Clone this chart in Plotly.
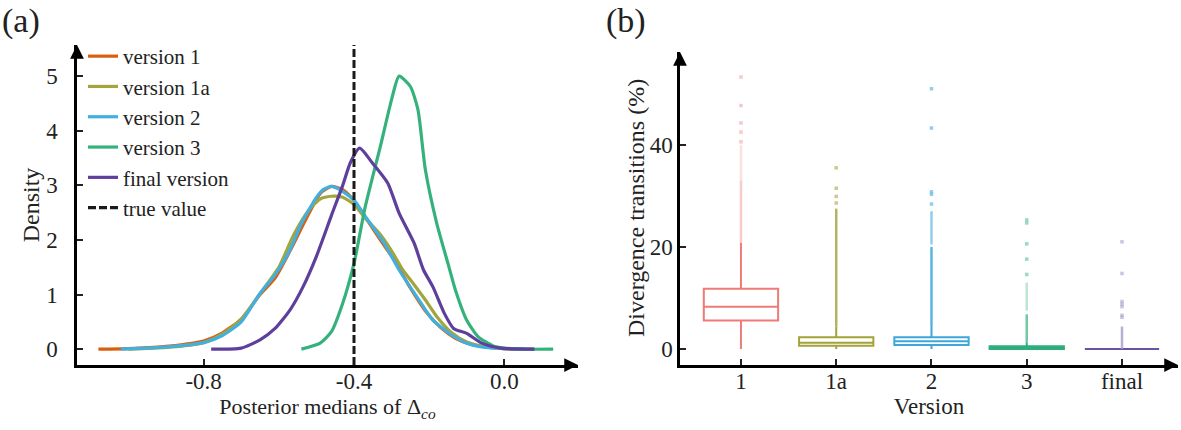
import plotly.graph_objects as go

# ---------------- Panel (a): density of posterior medians ----------------
v1_x = [-1.08, -1.0, -0.9, -0.85, -0.8, -0.75, -0.7, -0.65, -0.61, -0.57, -0.53, -0.49, -0.46,
        -0.43, -0.40, -0.37, -0.33, -0.29, -0.25, -0.21, -0.17, -0.13, -0.09, -0.05, 0.0, 0.05]
v1_y = [0.0, 0.01, 0.05, 0.09, 0.15, 0.3, 0.55, 1.0, 1.3, 1.8, 2.35, 2.85, 2.98,
        2.92, 2.72, 2.42, 2.0, 1.6, 1.12, 0.7, 0.4, 0.2, 0.09, 0.04, 0.01, 0.0]

v1a_x = [-1.0, -0.9, -0.8, -0.75, -0.7, -0.65, -0.6, -0.56, -0.52, -0.49, -0.46, -0.43, -0.40,
         -0.37, -0.33, -0.3, -0.27, -0.24, -0.21, -0.18, -0.14, -0.1, -0.05, 0.0, 0.05]
v1a_y = [0.0, 0.03, 0.12, 0.28, 0.55, 1.02, 1.5, 2.1, 2.55, 2.75, 2.8, 2.78, 2.65,
         2.4, 2.1, 1.8, 1.45, 1.18, 0.9, 0.6, 0.3, 0.13, 0.04, 0.01, 0.0]

v2_x = [-1.02, -0.95, -0.88, -0.8, -0.75, -0.7, -0.65, -0.61, -0.57, -0.54, -0.5, -0.48, -0.46,
        -0.44, -0.4, -0.37, -0.32, -0.28, -0.23, -0.19, -0.14, -0.1, -0.05, 0.0, 0.08]
v2_y = [0.0, 0.02, 0.05, 0.12, 0.25, 0.5, 1.02, 1.36, 1.82, 2.3, 2.78, 2.93, 2.98,
        2.93, 2.73, 2.43, 1.94, 1.45, 0.93, 0.53, 0.26, 0.11, 0.03, 0.01, 0.0]

v3_x = [-0.54, -0.49, -0.46, -0.43, -0.40, -0.37, -0.33, -0.30, -0.28, -0.25, -0.23, -0.21,
        -0.18, -0.15, -0.13, -0.10, -0.07, -0.03, 0.0, 0.05, 0.13]
v3_y = [0.0, 0.11, 0.32, 0.84, 1.57, 2.61, 3.71, 4.57, 5.0, 4.81, 4.39, 3.28,
        2.31, 1.57, 1.08, 0.53, 0.23, 0.06, 0.02, 0.0, 0.0]

vf_x = [-0.78, -0.7, -0.65, -0.61, -0.57, -0.535, -0.5, -0.46, -0.43, -0.41, -0.385, -0.35,
        -0.31, -0.28, -0.24, -0.215, -0.19, -0.16, -0.135, -0.1, -0.06, -0.01, 0.08]
vf_y = [0.0, 0.02, 0.17, 0.38, 0.72, 1.15, 1.7, 2.45, 3.0, 3.41, 3.68, 3.4,
        3.04, 2.49, 1.94, 1.45, 1.14, 0.66, 0.38, 0.29, 0.11, 0.02, 0.0]

TRUE_VALUE = -0.4

density_names = ["version 1", "version 1a", "version 2", "version 3", "final version"]
density_colors = ["#D95F0E", "#A4A43C", "#41B0E0", "#35B27C", "#5E3F9C"]

a_xticks = [-0.8, -0.4, 0.0]
a_xticklabels = ["-0.8", "-0.4", "0.0"]
a_yticks = [0, 1, 2, 3, 4, 5]

# ---------------- Panel (b): divergence transitions ----------------
versions = ["1", "1a", "2", "3", "final"]
q1 = [5.6, 0.65, 0.8, 0.0, 0.0]
median = [8.3, 1.2, 1.5, 0.2, 0.0]
q3 = [11.8, 2.3, 2.3, 0.55, 0.0]
lowerfence = [0.0, 0.0, 0.0, 0.0, 0.0]
upperfence = [20.8, 4.4, 4.5, 1.3, 0.0]
box_colors = ["#EE7B76", "#A3A33A", "#3EA7DA", "#2EAE7C", "#6B52A3"]
outlier_colors = ["#F2A3A0", "#A8A845", "#4AAEDD", "#5BC096", "#A89BCB"]
# dense runs of outliers (lower, upper) read from the streaks
dense_lo = [[20.8, 33.0], [4.4], [4.5, 20.5], [1.3, 7.5], [0.0]]
dense_hi = [[33.0, 40.0], [27.5], [20.0, 27.0], [6.8, 13.0], [4.4]]
dense_alpha = [[0.55, 0.3], [0.85], [0.9, 0.6], [0.85, 0.4], [0.8]]
# isolated outliers
sparse = [[40.6, 42.5, 44.3, 47.7, 53.3],
          [28.6, 29.9, 31.5, 35.5],
          [28.4, 30.3, 30.8, 43.3, 51.0],
          [14.6, 17.6, 20.6, 24.7, 25.3],
          [6.2, 6.6, 8.3, 8.8, 9.3, 14.8, 21.0]]
b_yticks = [0, 20, 40]

FONT = "Liberation Serif"
W, H = 1181, 430

fig = go.Figure()

for xs, ys, nm, col in zip([v1_x, v1a_x, v2_x, v3_x, vf_x], [v1_y, v1a_y, v2_y, v3_y, vf_y],
                           density_names, density_colors):
    fig.add_trace(go.Scatter(x=xs, y=ys, mode="lines", name=nm,
                             line=dict(color=col, width=3.2, shape="spline", smoothing=0.6),
                             xaxis="x", yaxis="y"))

fig.add_trace(go.Scatter(x=[None], y=[None], mode="lines", name="true value",
                         line=dict(color="#1a1a1a", width=3.2, dash="8px,3px"),
                         xaxis="x", yaxis="y"))

fig.add_shape(type="line", xref="x", yref="y domain", x0=TRUE_VALUE, x1=TRUE_VALUE, y0=0, y1=1,
              line=dict(color="#1a1a1a", width=3, dash="8px,3px"), layer="above")

for i, v in enumerate(versions):
    for lo, hi, al in zip(dense_lo[i], dense_hi[i], dense_alpha[i]):
        fig.add_trace(go.Scatter(x=[v, v], y=[lo, hi], mode="lines", showlegend=False,
                                 line=dict(color=outlier_colors[i], width=2.5), opacity=al,
                                 xaxis="x2", yaxis="y2", hoverinfo="skip"))
    fig.add_trace(go.Scatter(x=[v] * len(sparse[i]), y=sparse[i], mode="markers", showlegend=False,
                             marker=dict(color=outlier_colors[i], size=3.5, symbol="square",
                                         opacity=0.6, line=dict(width=0)),
                             xaxis="x2", yaxis="y2"))
    fig.add_trace(go.Box(x=[v], q1=[q1[i]], median=[median[i]], q3=[q3[i]],
                         lowerfence=[lowerfence[i]], upperfence=[upperfence[i]],
                         fillcolor="white", line=dict(color=box_colors[i], width=2),
                         width=0.78, whiskerwidth=0, boxpoints=False, showlegend=False,
                         xaxis="x2", yaxis="y2"))

def px_x(p):
    return p / W

def px_y(p):
    return 1 - p / H

axis_common = dict(showline=True, linecolor="black", linewidth=2.5, ticks="inside", ticklen=6,
                   tickwidth=2, tickcolor="#222", showgrid=False, zeroline=False, automargin=False,
                   tickfont=dict(family=FONT, size=23, color="#222"))

fig.update_layout(
    width=W, height=H, margin=dict(l=0, r=0, t=0, b=0),
    plot_bgcolor="white", paper_bgcolor="white",
    font=dict(family=FONT, size=22, color="#222"),
    xaxis=dict(domain=[px_x(77), px_x(578)], range=[-1.137, 0.196], anchor="y",
               tickvals=a_xticks, ticktext=a_xticklabels, ticklabelstandoff=-6,
               title=dict(text="Posterior medians of Δ<sub><i>co</i></sub>", standoff=4,
                          font=dict(family=FONT, size=22, color="#222")), **axis_common),
    yaxis=dict(domain=[px_y(365), px_y(45)], range=[-0.29, 5.57], anchor="x",
               tickvals=a_yticks, ticklabelstandoff=12,
               title=dict(text="Density", standoff=0,
                          font=dict(family=FONT, size=24, color="#222")), **axis_common),
    xaxis2=dict(domain=[px_x(680), px_x(1178)], range=[-0.64, 4.588], anchor="y2",
                type="category", categoryorder="array", categoryarray=versions,
                ticklabelstandoff=-6,
                title=dict(text="Version", standoff=2,
                           font=dict(family=FONT, size=23, color="#222")), **axis_common),
    yaxis2=dict(domain=[px_y(365), px_y(52)], range=[-3.14, 58.2], anchor="x2",
                tickvals=b_yticks, ticklabelstandoff=0, **axis_common),
    legend=dict(x=px_x(83), y=px_y(36), xanchor="left", yanchor="top",
                bgcolor="rgba(0,0,0,0)", font=dict(family=FONT, size=21, color="#222"),
                itemwidth=30, tracegroupgap=0),
    showlegend=True,
)

# y title of panel (b), placed close to its tick labels as in the reference
fig.add_annotation(xref="paper", yref="paper", x=px_x(636), y=px_y(208),
                   text="Divergence transitions (%)", textangle=-90, showarrow=False,
                   xanchor="center", yanchor="middle", font=dict(family=FONT, size=24, color="#222"))

# arrowheads on the axes
for xr, yr, hx, hy, dx, dy in [("x domain", "y domain", 0, 1, 0, 14),
                               ("x domain", "y domain", 1, 0, -14, 0),
                               ("x2 domain", "y2 domain", 0, 1, 0, 14),
                               ("x2 domain", "y2 domain", 1, 0, -14, 0)]:
    fig.add_annotation(xref=xr, yref=yr, x=hx, y=hy, ax=dx, ay=dy, text="", showarrow=True,
                       arrowhead=2, arrowsize=1.1, arrowwidth=2.5, arrowcolor="black")

fig.add_annotation(xref="paper", yref="paper", x=0, y=px_y(21), text="(a)", showarrow=False,
                   xanchor="left", yanchor="middle", font=dict(family=FONT, size=34, color="#222"))
fig.add_annotation(xref="paper", yref="paper", x=px_x(604), y=px_y(21), text="(b)", showarrow=False,
                   xanchor="left", yanchor="middle", font=dict(family=FONT, size=34, color="#222"))

fig.write_html("out.html", config={"displayModeBar": False},
               post_script="document.body.style.margin='0';")
